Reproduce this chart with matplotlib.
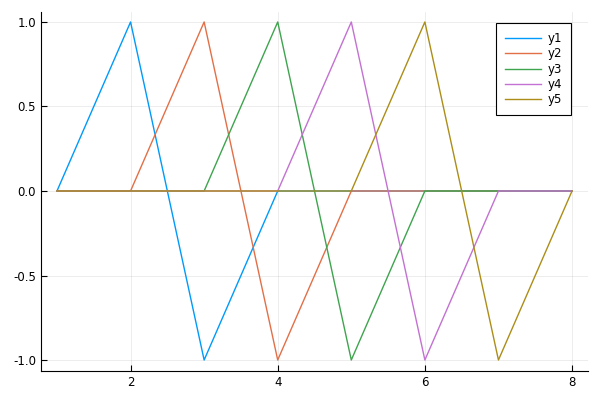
import matplotlib
matplotlib.use("Agg")
import matplotlib.pyplot as plt

x = [1, 2, 3, 4, 5, 6, 7, 8]
y1 = [0, 1, -1, 0, 0, 0, 0, 0]
y2 = [0, 0, 1, -1, 0, 0, 0, 0]
y3 = [0, 0, 0, 1, -1, 0, 0, 0]
y4 = [0, 0, 0, 0, 1, -1, 0, 0]
y5 = [0, 0, 0, 0, 0, 1, -1, 0]
labels = ["y1", "y2", "y3", "y4", "y5"]
colors = ["#009AFA", "#E36F47", "#3EA44E", "#C371D2", "#AC8D18"]

fig = plt.figure(figsize=(6, 4), dpi=100)
ax = fig.add_axes([0.0683, 0.0725, 0.9117, 0.8975])

for ys, lab, c in zip([y1, y2, y3, y4, y5], labels, colors):
    ax.plot(x, ys, color=c, linewidth=1, label=lab)

ax.set_xlim(0.7825, 8.217)
ax.set_ylim(-1.065, 1.059)
ax.set_xticks([2, 4, 6, 8])
ax.set_yticks([-1.0, -0.5, 0.0, 0.5, 1.0])
ax.set_yticklabels(["-1.0", "-0.5", "0.0", "0.5", "1.0"])
ax.grid(color="black", alpha=0.1, linewidth=0.5)
ax.spines["top"].set_visible(False)
ax.spines["right"].set_visible(False)
ax.tick_params(direction="in", length=4, labelsize=8.5, colors="black")

leg = ax.legend(loc="upper right", bbox_to_anchor=(0.969, 0.969), fontsize=8.5,
                fancybox=False, framealpha=1, edgecolor="black",
                handlelength=3.0, handletextpad=0.6, labelspacing=0.2,
                borderpad=0.75, borderaxespad=0.0)
leg.get_frame().set_linewidth(0.8)

fig.savefig("out.png", dpi=100)
